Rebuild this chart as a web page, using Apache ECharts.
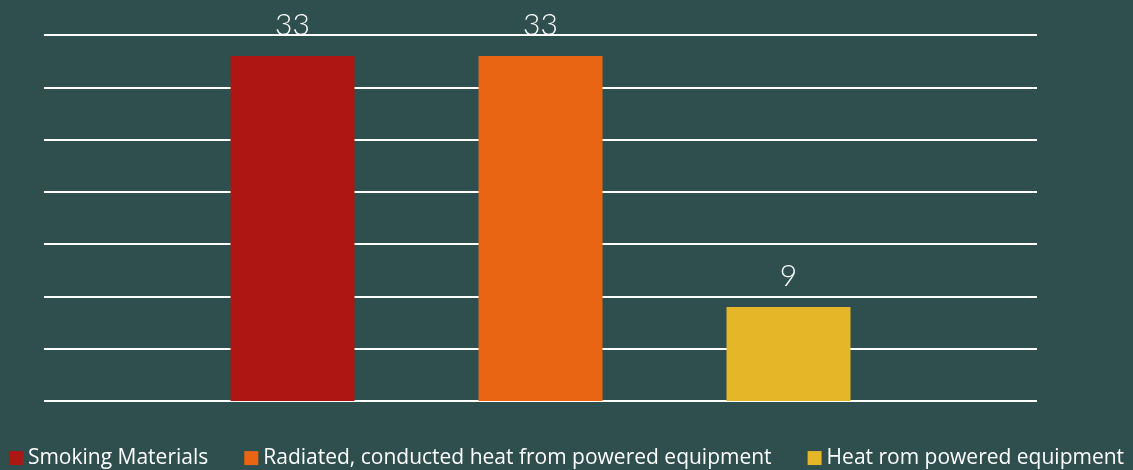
<html>
<head>
    <title>Ignition sources</title>
    <script src="https://cdn.jsdelivr.net/npm/echarts@6/dist/echarts.min.js"></script>
</head>
<body style="margin:0;background:#2f4f4e;">
    <div id="main" style="width:1133px;height:470px;"></div>
    <script type="text/javascript">
        var categories = ["Fires"];
        var seriesNames = ["Smoking Materials", "Radiated, conducted heat from powered equipment", "Heat rom powered equipment"];
        var seriesValues = [[33], [33], [9]];
        var colors = ["#ae1614", "#e96413", "#e5b628"];

        var myChart = echarts.init(document.getElementById('main'));
        var series = [];
        for (var i = 0; i < seriesNames.length; i++) {
            series.push({
                name: seriesNames[i],
                type: "bar",
                data: seriesValues[i],
                barWidth: 124,
                barGap: "100%",
                itemStyle: { color: colors[i] },
                label: {
                    show: true,
                    position: "top",
                    distance: 9,
                    color: "#ffffff",
                    fontSize: 30,
                    fontWeight: 300,
                    fontFamily: "Lato"
                }
            });
        }
        var option = {
            backgroundColor: "#2f4f4e",
            animation: false,
            grid: { left: 44, right: 96, top: 35, bottom: 69 },
            legend: {
                top: 436,
                left: "center",
                itemWidth: 14,
                itemHeight: 14,
                itemGap: 36,
                icon: "rect",
                textStyle: { color: "#ffffff", fontSize: 21, fontFamily: "Open Sans" },
                data: seriesNames
            },
            xAxis: {
                type: "category",
                data: categories,
                axisLabel: { show: false },
                axisTick: { show: false },
                axisLine: { show: false }
            },
            yAxis: {
                type: "value",
                min: 0,
                max: 35,
                interval: 5,
                axisLabel: { show: false },
                axisLine: { show: false },
                axisTick: { show: false },
                splitLine: { lineStyle: { color: "#ffffff", width: 2 } }
            },
            series: series
        };
        myChart.setOption(option);
    </script>
</body>
</html>
